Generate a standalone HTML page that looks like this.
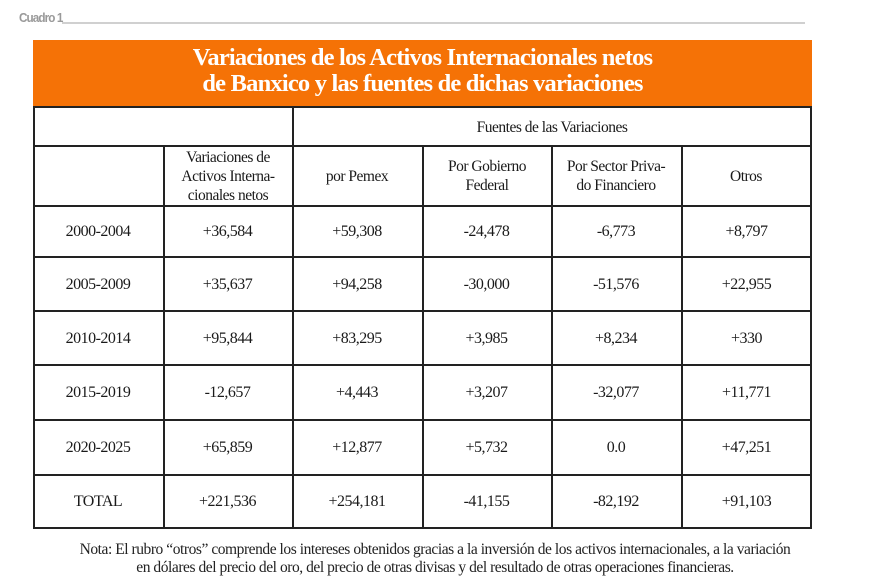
<!DOCTYPE html>
<html><head><meta charset="utf-8"><style>
body{margin:0;background:#fff;width:870px;height:580px;position:relative;overflow:hidden;font-family:"Liberation Serif",serif;color:#1a1a1a}
.a{position:absolute}
.h{position:absolute;background:#222;height:2px}
.v{position:absolute;background:#222;width:2px}
.c{position:absolute;display:flex;align-items:center;justify-content:center;text-align:center;font-size:16px;letter-spacing:-0.5px;line-height:19px}
.hd{font-size:15.5px;letter-spacing:-0.5px;line-height:19px}
</style></head><body>
<div class="a" style="left:19px;top:10px;font-family:'Liberation Sans',sans-serif;font-weight:bold;font-size:13px;color:#999;letter-spacing:-1px;transform:scaleX(0.9);transform-origin:left">Cuadro 1</div>
<div class="a" style="left:62px;top:22px;width:743px;height:2px;background:#d0d0d0"></div>
<div class="a" style="left:33px;top:40px;width:779px;height:67px;background:#f57206"></div>
<div class="a" style="left:33px;top:45px;width:779px;text-align:center;color:#fff;font-weight:bold;font-size:24.5px;line-height:26px;letter-spacing:-0.8px">Variaciones de los Activos Internacionales netos<br>de Banxico y las fuentes de dichas variaciones</div>
<div class="h" style="left:33px;top:106px;width:779px"></div>
<div class="h" style="left:33px;top:145px;width:779px"></div>
<div class="h" style="left:33px;top:205px;width:779px"></div>
<div class="h" style="left:33px;top:256px;width:779px"></div>
<div class="h" style="left:33px;top:310px;width:779px"></div>
<div class="h" style="left:33px;top:364px;width:779px"></div>
<div class="h" style="left:33px;top:419px;width:779px"></div>
<div class="h" style="left:33px;top:474px;width:779px"></div>
<div class="h" style="left:33px;top:527px;width:779px"></div>
<div class="v" style="left:33px;top:106px;height:423px"></div>
<div class="v" style="left:163px;top:145px;height:384px"></div>
<div class="v" style="left:292px;top:106px;height:423px"></div>
<div class="v" style="left:422px;top:145px;height:384px"></div>
<div class="v" style="left:551px;top:145px;height:384px"></div>
<div class="v" style="left:681px;top:145px;height:384px"></div>
<div class="v" style="left:810px;top:106px;height:423px"></div>
<div class="c hd" style="left:292px;top:108px;width:520px;height:38px">Fuentes de las Variaciones</div>
<div class="c hd" style="left:163px;top:147px;width:130px;height:58px">Variaciones de<br>Activos Interna-<br>cionales netos</div>
<div class="c hd" style="left:292px;top:147px;width:130px;height:58px">por Pemex</div>
<div class="c hd" style="left:422px;top:147px;width:130px;height:58px">Por Gobierno<br>Federal</div>
<div class="c hd" style="left:551px;top:147px;width:130px;height:58px">Por Sector Priva-<br>do Financiero</div>
<div class="c hd" style="left:681px;top:147px;width:130px;height:58px">Otros</div>
<div id="rows"></div>
<div class="a" style="left:10px;top:541px;width:850px;text-align:center;font-size:15.5px;line-height:18px;letter-spacing:-0.45px;color:#222">Nota: El rubro “otros” comprende los intereses obtenidos gracias a la inversión de los activos internacionales, a la variación<br>en dólares del precio del oro, del precio de otras divisas y del resultado de otras operaciones financieras.</div>
<script>
var d=[["2000-2004","+36,584","+59,308","-24,478","-6,773","+8,797"],["2005-2009","+35,637","+94,258","-30,000","-51,576","+22,955"],["2010-2014","+95,844","+83,295","+3,985","+8,234","+330"],["2015-2019","-12,657","+4,443","+3,207","-32,077","+11,771"],["2020-2025","+65,859","+12,877","+5,732","0.0","+47,251"],["TOTAL","+221,536","+254,181","-41,155","-82,192","+91,103"]];
var ys=[207,258,312,366,421,476],ye=[256,310,364,419,474,527],xs=[33,163,292,422,551,681,812],h="";
d.forEach(function(r,i){r.forEach(function(t,j){h+='<div class="c" style="left:'+xs[j]+'px;top:'+ys[i]+'px;width:'+(xs[j+1]-xs[j])+'px;height:'+(ye[i]-ys[i])+'px">'+t+'</div>'})});
document.getElementById('rows').innerHTML=h;
</script>
</body></html>
